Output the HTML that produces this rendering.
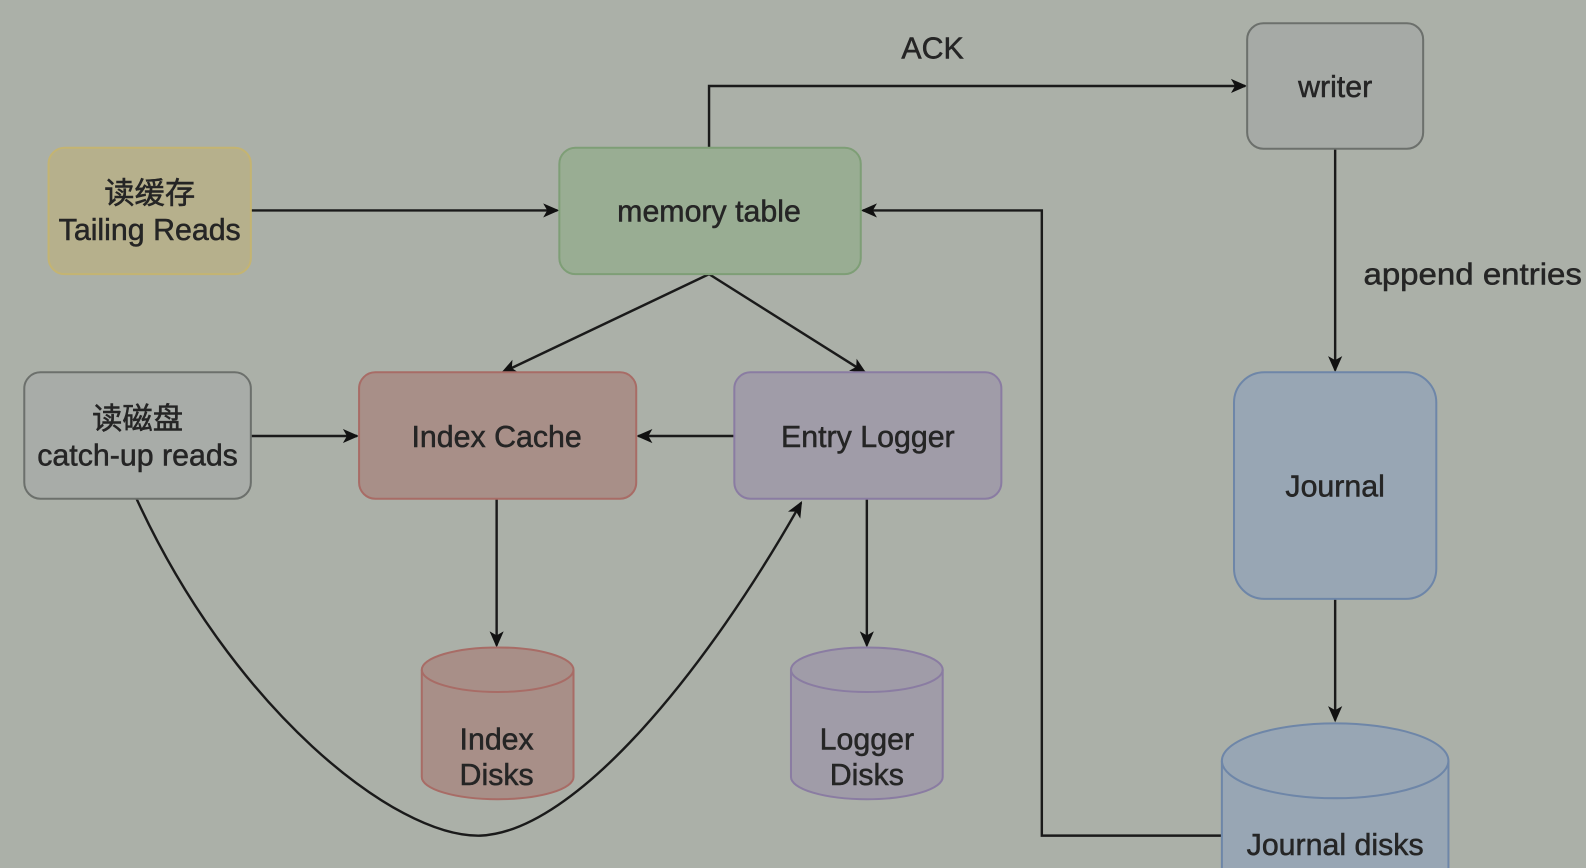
<!DOCTYPE html>
<html><head><meta charset="utf-8"><style>
html,body{margin:0;padding:0;background:#abb0a8;}
svg{display:block}
text{font-family:"Liberation Sans","Noto Sans CJK SC",sans-serif;fill:#252525;stroke:#252525;stroke-width:0.5;}
</style></head><body>
<svg width="1586" height="868" viewBox="0 0 1568 858" preserveAspectRatio="none" xmlns="http://www.w3.org/2000/svg">
<defs>
<marker id="a" markerWidth="16" markerHeight="16" refX="14" refY="8" orient="auto" markerUnits="userSpaceOnUse">
<path d="M0,1 L16,8 L0,15 L4,8 Z" fill="#111"/>
</marker>
</defs>
<rect width="1568" height="858" fill="#abb0a8"/>
<g stroke="#1a1a1a" stroke-width="2.4" fill="none">
<path d="M701,146 V85 H1231" marker-end="url(#a)"/>
<path d="M248,208 H551" marker-end="url(#a)"/>
<path d="M701,271 L497,368" marker-end="url(#a)"/>
<path d="M701,271 L855,368" marker-end="url(#a)"/>
<path d="M248,431 H353" marker-end="url(#a)"/>
<path d="M726,431 H631" marker-end="url(#a)"/>
<path d="M491,493 V638" marker-end="url(#a)"/>
<path d="M857,493 V638" marker-end="url(#a)"/>
<path d="M1320,147 V366" marker-end="url(#a)"/>
<path d="M1320,592 V712" marker-end="url(#a)"/>
<path d="M1208,826 H1030 V208 H853" marker-end="url(#a)"/>
<path d="M135,493 C230,700 390,828 475,826 C570,822 700,660 792,497" marker-end="url(#a)"/>
</g>
<g stroke-width="2">
<rect x="48" y="146" width="200" height="125" rx="16" fill="#b6b08c" stroke="#c4b472"/>
<rect x="553" y="146" width="298" height="125" rx="16" fill="#99ad93" stroke="#7e9e76"/>
<rect x="1233" y="23" width="174" height="124" rx="16" fill="#a6aaa6" stroke="#6c706c"/>
<rect x="24" y="368" width="224" height="125" rx="16" fill="#a8aca8" stroke="#6c706c"/>
<rect x="355" y="368" width="274" height="125" rx="16" fill="#a88f88" stroke="#a86c66"/>
<rect x="726" y="368" width="264" height="125" rx="16" fill="#a09ca8" stroke="#8a7ca2"/>
<rect x="1220" y="368" width="200" height="224" rx="30" fill="#98a6b4" stroke="#6e86a8"/>
<path d="M417,662 V768 A75,22 0 0 0 567,768 V662 A75,22 0 0 0 417,662 Z" fill="#a88f88" stroke="#a86c66"/>
<path d="M417,662 A75,22 0 0 0 567,662" fill="none" stroke="#a86c66"/>
<path d="M782,662 V768 A75,22 0 0 0 932,768 V662 A75,22 0 0 0 782,662 Z" fill="#a09ca8" stroke="#8a7ca2"/>
<path d="M782,662 A75,22 0 0 0 932,662" fill="none" stroke="#8a7ca2"/>
<path d="M1208,752 V880 H1432 V752 A112,37 0 0 0 1208,752 Z" fill="#98a6b4" stroke="#6e86a8"/>
<path d="M1208,752 A112,37 0 0 0 1432,752" fill="none" stroke="#6e86a8"/>
</g>
<g font-size="30" text-anchor="middle">
<text x="922" y="58">ACK</text>
<text x="148" y="201">读缓存</text>
<text x="148" y="237">Tailing Reads</text>
<text x="701" y="219">memory table</text>
<text x="1320" y="96">writer</text>
<text x="1456" y="281" textLength="216" lengthAdjust="spacingAndGlyphs">append  entries</text>
<text x="136" y="424">读磁盘</text>
<text x="136" y="460">catch-up reads</text>
<text x="491" y="442">Index Cache</text>
<text x="858" y="442">Entry Logger</text>
<text x="1320" y="491">Journal</text>
<text x="491" y="741">Index</text>
<text x="491" y="776">Disks</text>
<text x="857" y="741">Logger</text>
<text x="857" y="776">Disks</text>
<text x="1320" y="845">Journal disks</text>
</g>
</svg>
</body></html>
